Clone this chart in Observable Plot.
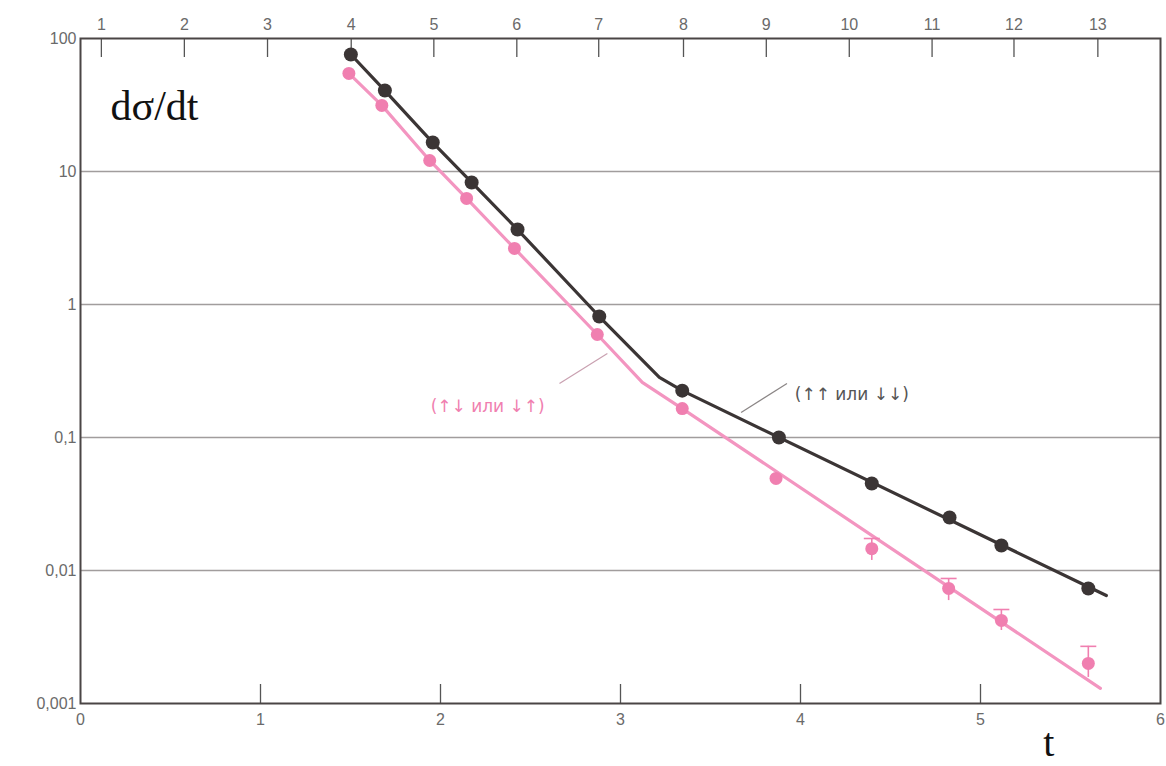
<!DOCTYPE html>
<html>
<head>
<meta charset="utf-8">
<script src="https://cdn.jsdelivr.net/npm/d3@7"></script>
<script src="https://cdn.jsdelivr.net/npm/@observablehq/plot@0.6"></script>
<style>
  html, body { margin: 0; padding: 0; background: #fff; }
  #chart svg { display: block; }
</style>
</head>
<body>
<div id="chart"></div>
<script>
// ---- Data ----
// Bottom axis (t) ticks
const tTicks = [0, 1, 2, 3, 4, 5, 6];
// Left axis (log) ticks and labels
const yTicks = [100, 10, 1, 0.1, 0.01, 0.001];
const yTickLabels = ["100", "10", "1", "0,1", "0,01", "0,001"];
const gridValues = [10, 1, 0.1, 0.01];
// Top axis labels and their positions on the t axis
const topTickLabels = ["1", "2", "3", "4", "5", "6", "7", "8", "9", "10", "11", "12", "13"];
const topTickT = [0.116, 0.577, 1.039, 1.504, 1.963, 2.424, 2.879, 3.350, 3.810, 4.271, 4.731, 5.186, 5.652];

// Series (↑↑ или ↓↓) — dark points
const parallelT = [1.502, 1.691, 1.957, 2.173, 2.428, 2.882, 3.343, 3.880, 4.396, 4.828, 5.116, 5.599];
const parallelV = [75.8, 40.6, 16.5, 8.27, 3.66, 0.812, 0.225, 0.100, 0.0451, 0.0250, 0.0154, 0.00733];
// Fitted curve (↑↑ или ↓↓)
const parallelFitT = [1.502, 1.691, 1.957, 2.173, 2.428, 2.882, 3.216, 3.343, 5.699];
const parallelFitV = [75.8, 40.6, 16.5, 8.27, 3.66, 0.812, 0.283, 0.225, 0.00648];

// Series (↑↓ или ↓↑) — pink points
const antiT = [1.491, 1.674, 1.940, 2.145, 2.411, 2.871, 3.343, 3.864, 4.396, 4.823, 5.116, 5.599];
const antiV = [54.6, 31.4, 12.1, 6.27, 2.64, 0.595, 0.165, 0.0492, 0.0146, 0.00733, 0.00421, 0.0020];
// Error bars on the pink series (index, low, high)
const antiErrIdx = [8, 9, 10, 11];
const antiErrLow = [0.0119, 0.00594, 0.00354, 0.00157];
const antiErrHigh = [0.0174, 0.00871, 0.00509, 0.00269];
// Fitted curve (↑↓ или ↓↑)
const antiFitT = [1.491, 1.674, 1.940, 2.145, 2.411, 2.871, 3.121, 3.343, 5.666];
const antiFitV = [54.6, 31.4, 12.1, 6.27, 2.64, 0.595, 0.2595, 0.165, 0.0013];

// Annotations
const labels = ["(↑↓ или ↓↑)", "(↑↑ или ↓↓)"];
const labelT = [2.262, 4.285];
const labelV = [0.171, 0.2104];
const leaderT1 = [2.661, 3.670];
const leaderV1 = [0.2547, 0.1542];
const leaderT2 = [2.927, 3.925];
const leaderV2 = [0.4285, 0.2547];

// ---- Build tables ----
const darkCol = "#3b3535";
const pinkDot = "#f07fb0";
const pinkLine = "#f395c0";
const axisCol = "#6a6a6a";

const parallel = parallelT.map((t, i) => ({t, v: parallelV[i]}));
const parallelFit = parallelFitT.map((t, i) => ({t, v: parallelFitV[i]}));
const anti = antiT.map((t, i) => ({t, v: antiV[i]}));
const antiFit = antiFitT.map((t, i) => ({t, v: antiFitV[i]}));
const antiErr = antiErrIdx.map((k, i) => ({t: antiT[k], lo: antiErrLow[i], hi: antiErrHigh[i]}));
const ann = labels.map((s, i) => ({s, t: labelT[i], v: labelV[i], t1: leaderT1[i], v1: leaderV1[i], t2: leaderT2[i], v2: leaderV2[i]}));

const yLabelMap = new Map(yTicks.map((d, i) => [d, yTickLabels[i]]));
const topLabelMap = new Map(topTickT.map((d, i) => [d, topTickLabels[i]]));

const hline = { draw(ctx, size) { const w = Math.sqrt(size); ctx.moveTo(-w, 0); ctx.lineTo(w, 0); } };

const sans = "'Liberation Sans', Arial, sans-serif";
const serif = "'Liberation Serif', 'Times New Roman', serif";

const chart = Plot.plot({
  width: 1166,
  height: 766,
  marginLeft: 80,
  marginRight: 6,
  marginTop: 38,
  marginBottom: 63,
  style: { fontFamily: sans, background: "#fff" },
  x: { domain: [0, 6] },
  y: { type: "log", domain: [0.001, 100] },
  marks: [
    Plot.ruleY(gridValues, { stroke: "#8a8585", strokeWidth: 1.3, strokeOpacity: 0.8 }),
    // inward tick marks, bottom and top
    Plot.ruleX(tTicks.slice(1, -1), { stroke: "#555", strokeWidth: 1.3, insetTop: 646 }),
    Plot.ruleX(topTickT, { stroke: "#555", strokeWidth: 1.3, insetBottom: 646 }),
    Plot.frame({ stroke: "#4a4545", strokeWidth: 2 }),
    Plot.axisY(yTicks, { tickSize: 0, tickPadding: 4, fontSize: 16, color: axisCol, tickFormat: d => yLabelMap.get(d), label: null }),
    Plot.axisX(tTicks, { anchor: "bottom", tickSize: 0, tickPadding: 10, fontSize: 16, color: axisCol, tickFormat: d3.format("d"), label: null }),
    Plot.axisX(topTickT, { anchor: "top", tickSize: 0, tickPadding: 9, fontSize: 16, color: axisCol, tickFormat: d => topLabelMap.get(d), label: null }),
    // leader lines
    Plot.link(ann, { x1: "t1", y1: "v1", x2: "t2", y2: "v2", stroke: ["#c9a0b0", "#8a8585"], strokeWidth: 1.2 }),
    // fitted curves
    Plot.line(antiFit, { x: "t", y: "v", stroke: pinkLine, strokeWidth: 3.2 }),
    Plot.line(parallelFit, { x: "t", y: "v", stroke: darkCol, strokeWidth: 3.2 }),
    // error bars
    Plot.ruleX(antiErr, { x: "t", y1: "lo", y2: "hi", stroke: pinkDot, strokeWidth: 1.6 }),
    Plot.dot(antiErr, { x: "t", y: "hi", symbol: hline, r: 4.5, stroke: pinkDot, strokeWidth: 1.6 }),
    // points
    Plot.dot(anti, { x: "t", y: "v", r: 6.5, fill: pinkDot }),
    Plot.dot(parallel, { x: "t", y: "v", r: 7, fill: darkCol }),
    // annotation labels
    Plot.text(ann, { x: "t", y: "v", text: "s", fill: [pinkDot, "#555"], fontSize: 17, fontFamily: "'DejaVu Sans', sans-serif", letterSpacing: 2 }),
    // axis titles
    Plot.text(["dσ/dt"], { frameAnchor: "top-left", dx: 30, dy: 52, fontSize: 42, fontFamily: serif, fill: "#111", textAnchor: "start" }),
    Plot.text(["t"], { x: [5.38], frameAnchor: "bottom", dy: 52, fontSize: 40, fontFamily: serif, fill: "#111" })
  ]
});
document.getElementById("chart").append(chart);
</script>
</body>
</html>
